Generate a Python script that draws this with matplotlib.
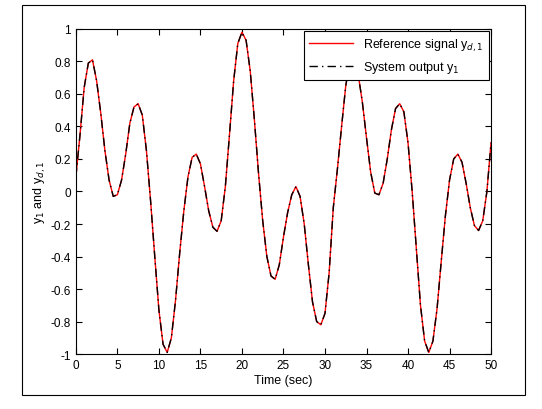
import numpy as np
import matplotlib
matplotlib.use("Agg")
import matplotlib.pyplot as plt
from matplotlib.patches import Rectangle

t = np.arange(0, 50.01, 0.5)
y_ref = [0.09, 0.35, 0.64, 0.79, 0.81, 0.68, 0.48, 0.25, 0.07, -0.03,
         -0.02, 0.07, 0.23, 0.42, 0.52, 0.54, 0.47, 0.25, -0.06, -0.40,
         -0.73, -0.94, -0.99, -0.90, -0.67, -0.38, -0.12, 0.09, 0.21, 0.23,
         0.17, 0.03, -0.12, -0.22, -0.245, -0.18, 0.03, 0.35, 0.68, 0.91,
         0.98, 0.93, 0.74, 0.44, 0.11, -0.18, -0.40, -0.52, -0.54, -0.45,
         -0.28, -0.13, -0.02, 0.03, -0.03, -0.20, -0.45, -0.68, -0.80, -0.82,
         -0.75, -0.50, -0.10, 0.14, 0.40, 0.65, 0.80, 0.81, 0.72, 0.55,
         0.33, 0.12, -0.01, -0.02, 0.05, 0.20, 0.38, 0.51, 0.54, 0.49,
         0.30, 0.00, -0.35, -0.70, -0.92, -0.99, -0.92, -0.72, -0.43, -0.15,
         0.07, 0.20, 0.23, 0.18, 0.05, -0.10, -0.21, -0.24, -0.18, 0.00,
         0.30]
y_out = list(y_ref)

plt.rcParams['font.family'] = ['Liberation Sans', 'DejaVu Sans']
fig = plt.figure(figsize=(5.42, 4.10), dpi=100)
ax = fig.add_axes([0.14, 0.134, 0.766, 0.793])

ax.plot(t, y_ref, color='red', lw=1.0, label='Reference signal y$_{d,1}$')
ax.plot(t, y_out, color='black', lw=1.0, ls=(0, (6, 3, 1, 3)), label='System output y$_1$')

ax.set_xlim(0, 50)
ax.set_ylim(-1, 1)
ax.set_xticks(np.arange(0, 51, 5))
ax.set_yticks(np.round(np.arange(-1, 1.01, 0.2), 1))
ax.set_yticklabels(['-1', '-0.8', '-0.6', '-0.4', '-0.2', '0', '0.2', '0.4', '0.6', '0.8', '1'])
ax.tick_params(direction='in', labelsize=8.5, top=True, right=True, length=4)
ax.set_xlabel('Time (sec)', fontsize=9, labelpad=2)
ax.set_ylabel('y$_1$ and y$_{d,1}$', fontsize=9, labelpad=2)
leg = ax.legend(loc='upper right', fontsize=9, fancybox=False, framealpha=1,
                edgecolor='black', handlelength=3.5, borderaxespad=0.2)
leg.get_frame().set_linewidth(0.8)

fig.patches.append(Rectangle((0.04, 0.035), 0.928, 0.95, transform=fig.transFigure,
                             fill=False, edgecolor='black', lw=0.8))
fig.savefig('out.png', dpi=100)
